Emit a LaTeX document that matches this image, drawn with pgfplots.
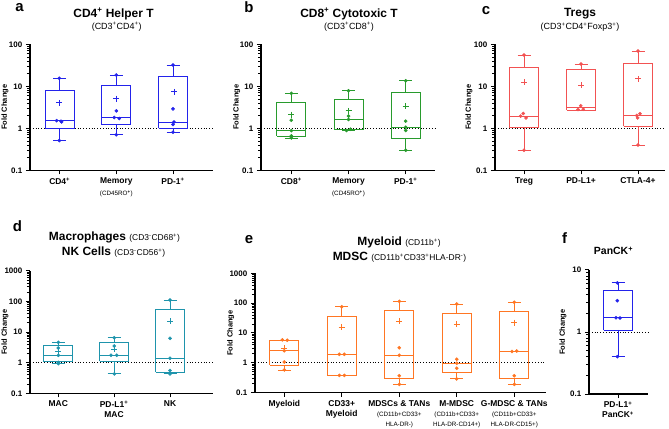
\documentclass[border=0pt]{standalone}
\usepackage{fontspec}
\setmainfont{Liberation Sans}
\usepackage{pgfplots}
\pgfplotsset{compat=1.18}

\definecolor{cBlue}{RGB}{35,35,235}
\definecolor{cGreen}{RGB}{40,155,45}
\definecolor{cRed}{RGB}{242,82,82}
\definecolor{cTeal}{RGB}{30,148,172}
\definecolor{cOrange}{RGB}{255,118,35}

\newcommand{\sm}{\mdseries\fontsize{6.3}{7.5}\selectfont}
\newcommand{\ttl}{\bfseries\fontsize{12}{14}\selectfont}
\newcommand{\subt}{\mdseries\fontsize{9}{11}\selectfont}
\newcommand{\subs}{\mdseries\fontsize{8.5}{10}\selectfont}

% common axis opening
\newcommand{\pax}[1]{\begin{axis}[ymode=log, scale only axis,
    axis x line=bottom, axis y line=left,
    axis line style={-, line width=1.3pt, black},
    tick align=outside,
    major tick length=4.2bp, minor tick length=3bp,
    major tick style={black, line width=1pt},
    minor tick style={black, line width=0.8pt},
    yticklabel style={font=\bfseries\fontsize{8}{9}\selectfont},
    xticklabel style={font=\bfseries\fontsize{8.5}{10}\selectfont, align=center},
    ylabel={Fold Change},
    ylabel style={font=\bfseries\fontsize{7.5}{9}\selectfont},
    clip=false, #1]}

% #1 colour, #2 position, #3..#7 lower whisker, q1, median, q3, upper whisker
\newcommand{\bx}[7]{%
  \pgfmathsetmacro{\bxl}{#2-14.5}\pgfmathsetmacro{\bxr}{#2+14.5}%
  \pgfmathsetmacro{\bwl}{#2-6.5}\pgfmathsetmacro{\bwr}{#2+6.5}%
  \addplot[#1, line width=0.8pt, mark=none] coordinates {(\bxl,#4) (\bxr,#4) (\bxr,#6) (\bxl,#6) (\bxl,#4)};
  \addplot[#1, line width=0.8pt, mark=none] coordinates {(\bxl,#5) (\bxr,#5)};
  \addplot[#1, line width=0.8pt, mark=none] coordinates {(#2,#6) (#2,#7)};
  \addplot[#1, line width=0.8pt, mark=none] coordinates {(\bwl,#7) (\bwr,#7)};
  \addplot[#1, line width=0.8pt, mark=none] coordinates {(#2,#4) (#2,#3)};
  \addplot[#1, line width=0.8pt, mark=none] coordinates {(\bwl,#3) (\bwr,#3)};
}

\begin{document}
\begin{tikzpicture}
\path[use as bounding box] (0,0) rectangle (669bp,429bp);

% ---------------- a ----------------
\pax{width=183bp, height=126bp,
  xmin=30, xmax=213, ymin=0.1, ymax=100,
  ytick={0.1,1,10,100}, yticklabels={0.1,1,10,100},
  minor ytick={0.2,0.3,0.4,0.5,0.6,0.7,0.8,0.9,2,3,4,5,6,7,8,9,20,30,40,50,60,70,80,90},
  xtick={59.7,116.3,173},
  xticklabels={{CD4\textsuperscript{+}},{Memory\\[2pt]{\sm (CD45RO\textsuperscript{\bfseries +})}},{PD-1\textsuperscript{+}}},
  ylabel style={at={(axis description cs:-0.137,0.5)}, anchor=center},
  at={(30bp,258.7bp)}, anchor=south west}
\addplot[black, line width=0.9pt, dash pattern=on 1bp off 1.8bp] coordinates {(30,1) (213,1)};
\bx{cBlue}{59.7}{0.51}{0.97}{1.53}{8.1}{15.5}
\bx{cBlue}{116.3}{0.70}{1.23}{1.81}{10.5}{18.5}
\bx{cBlue}{173}{0.81}{1.02}{1.42}{17.2}{32}
\addplot[cBlue, only marks, mark=*, mark size=1.6bp] coordinates {(59.3,15.5) (56.7,1.52) (61,1.48) (61.7,1.42) (59.3,0.51)
  (116.3,18.5) (116.3,2.6) (114.3,1.81) (119.3,1.71) (116.3,0.70)
  (173,32) (173,2.9) (174,1.42) (173,1.23) (173,0.81)};
\addplot[cBlue, only marks, mark=+, mark size=3bp, line width=0.8pt] coordinates {(59.3,4.05) (116,5.1) (174,7.4)};
\end{axis}

% ---------------- b ----------------
\pax{width=174bp, height=126bp,
  xmin=261, xmax=435, ymin=0.1, ymax=100,
  ytick={0.1,1,10,100}, yticklabels={0.1,1,10,100},
  minor ytick={0.2,0.3,0.4,0.5,0.6,0.7,0.8,0.9,2,3,4,5,6,7,8,9,20,30,40,50,60,70,80,90},
  xtick={291.3,348.5,405.7},
  xticklabels={{CD8\textsuperscript{+}},{Memory\\[2pt]{\sm (CD45RO\textsuperscript{\bfseries +})}},{PD-1\textsuperscript{+}}},
  ylabel style={at={(axis description cs:-0.14,0.5)}, anchor=center},
  at={(261bp,258.7bp)}, anchor=south west}
\addplot[black, line width=0.9pt, dash pattern=on 1bp off 1.8bp] coordinates {(261,1) (435,1)};
\bx{cGreen}{291.3}{0.57}{0.64}{0.885}{4.1}{6.8}
\bx{cGreen}{348.5}{0.88}{0.94}{1.62}{4.8}{7.8}
\bx{cGreen}{405.7}{0.30}{0.59}{1.06}{7.1}{13.5}
\addplot[cGreen, only marks, mark=*, mark size=1.6bp] coordinates {(291.3,6.8) (291.3,1.56) (291.3,0.88) (291.3,0.66) (291.3,0.59)
  (348.5,7.8) (348.5,1.95) (348.5,1.62) (350.5,0.95) (346.5,0.89)
  (405.7,13.5) (405.7,1.48) (405.7,1.06) (405.7,0.89) (405.7,0.30)};
\addplot[cGreen, only marks, mark=+, mark size=3bp, line width=0.8pt] coordinates {(291.3,2.13) (348.5,2.6) (405.7,3.4)};
\end{axis}

% ---------------- c ----------------
\pax{width=170bp, height=126bp,
  xmin=495, xmax=665, ymin=0.1, ymax=100,
  ytick={0.1,1,10,100}, yticklabels={0.1,1,10,100},
  minor ytick={0.2,0.3,0.4,0.5,0.6,0.7,0.8,0.9,2,3,4,5,6,7,8,9,20,30,40,50,60,70,80,90},
  xtick={524,581,638},
  xticklabels={Treg,PD-L1+,CTLA-4+},
  ylabel style={at={(axis description cs:-0.153,0.5)}, anchor=center},
  at={(495bp,258.7bp)}, anchor=south west}
\addplot[black, line width=0.9pt, dash pattern=on 1bp off 1.8bp] coordinates {(495,1) (665,1)};
\bx{cRed}{524}{0.30}{1.04}{1.95}{28.3}{55.6}
\bx{cRed}{581}{2.7}{2.7}{3.07}{25.3}{33.9}
\bx{cRed}{638}{0.40}{1.12}{2.02}{35.2}{69}
\addplot[cRed, only marks, mark=*, mark size=1.6bp] coordinates {(524,55.6) (523.3,2.25) (520.7,1.95) (526,1.77) (524,0.30)
  (581,33.9) (580.7,3.43) (578,2.81) (583.3,2.85)
  (638,69) (640,2.21) (636.7,2.02) (637.7,1.77) (638,0.40)};
\addplot[cRed, only marks, mark=+, mark size=3bp, line width=0.8pt] coordinates {(524,12.4) (581,10.7) (638,15.1)};
\end{axis}

% ---------------- d ----------------
\pax{width=183bp, height=122.6bp,
  xmin=30, xmax=213, ymin=0.1, ymax=1000,
  ytick={0.1,1,10,100,1000}, yticklabels={0.1,1,10,100,1000},
  minor ytick={0.2,0.3,0.4,0.5,0.6,0.7,0.8,0.9,2,3,4,5,6,7,8,9,20,30,40,50,60,70,80,90,200,300,400,500,600,700,800,900},
  xtick={58.3,114,170},
  xticklabels={MAC,{PD-L1\textsuperscript{+}\\MAC},NK},
  ylabel style={at={(axis description cs:-0.137,0.5)}, anchor=center},
  at={(30bp,35.7bp)}, anchor=south west}
\addplot[black, line width=0.9pt, dash pattern=on 1bp off 1.8bp] coordinates {(30,1) (213,1)};
\bx{cTeal}{58.3}{0.95}{1.07}{1.73}{3.57}{4.6}
\bx{cTeal}{114}{0.43}{1.13}{1.73}{4.7}{6.5}
\bx{cTeal}{170}{0.43}{0.48}{1.39}{55}{111}
\addplot[cTeal, only marks, mark=*, mark size=1.6bp] coordinates {(58.3,4.6) (58.3,3.0) (58.3,1.73) (58.3,1.02) (58.3,0.93)
  (114.3,6.5) (114.3,3.5) (111,1.75) (116.7,1.75) (114.3,0.43)
  (170,111) (170,6.2) (170,1.39) (170,0.55) (170,0.43)};
\addplot[cTeal, only marks, mark=+, mark size=3bp, line width=0.8pt] coordinates {(58.3,2.28) (114.3,2.79) (170,22.8)};
\end{axis}

% ---------------- e ----------------
\pax{width=291bp, height=119.4bp,
  xmin=255, xmax=546, ymin=0.1, ymax=1000,
  ytick={0.1,1,10,100,1000}, yticklabels={0.1,1,10,100,1000},
  minor ytick={0.2,0.3,0.4,0.5,0.6,0.7,0.8,0.9,2,3,4,5,6,7,8,9,20,30,40,50,60,70,80,90,200,300,400,500,600,700,800,900},
  xtick={284.3,341.7,399.3,456.7,514.3},
  xticklabels={Myeloid,{CD33+\\Myeloid},{MDSCs \& TANs\\{\sm (CD11b+CD33+}\\{\sm HLA-DR-)}},{M-MDSC\\{\sm (CD11b+CD33+}\\{\sm HLA-DR-CD14+)}},{G-MDSC \& TANs\\{\sm (CD11b+CD33+}\\{\sm HLA-DR-CD15+)}}},
  ylabel style={at={(axis description cs:-0.0835,0.5)}, anchor=center},
  at={(255bp,36.3bp)}, anchor=south west}
\addplot[black, line width=0.9pt, dash pattern=on 1bp off 1.8bp] coordinates {(255,1) (546,1)};
\bx{cOrange}{284.3}{0.58}{0.83}{2.55}{5.7}{5.8}
\bx{cOrange}{341.7}{0.38}{0.38}{1.93}{37}{76}
\bx{cOrange}{399.3}{0.19}{0.29}{1.79}{56}{115}
\bx{cOrange}{456.7}{0.29}{0.48}{0.97}{45.7}{94}
\bx{cOrange}{514.3}{0.19}{0.29}{2.44}{51.8}{107}
\addplot[cOrange, only marks, mark=*, mark size=1.6bp] coordinates {(282.3,5.9) (287.3,5.7) (284.3,2.55) (284.3,1.07) (284.3,0.58)
  (341.7,76) (339.3,1.93) (344.3,1.93) (339.3,0.38) (344.3,0.38)
  (399.3,115) (399.3,3.2) (399.3,1.79) (399.3,0.37) (399.3,0.19)
  (456.7,94) (456.7,1.32) (456.7,0.97) (456.7,0.66) (456.7,0.29)
  (514.3,107) (512,2.42) (516.7,2.48) (514.3,0.37) (514.3,0.19)};
\addplot[cOrange, only marks, mark=+, mark size=3bp, line width=0.8pt] coordinates {(284.3,3.07) (341.7,15.9) (399.3,24.7) (456.7,19.6) (514.3,22.1)};
\end{axis}

% ---------------- f ----------------
\pax{width=59bp, height=124bp,
  xmin=589, xmax=648, ymin=0.1, ymax=10,
  ytick={0.1,1,10}, yticklabels={0.1,1,10},
  minor ytick={0.2,0.3,0.4,0.5,0.6,0.7,0.8,0.9,2,3,4,5,6,7,8,9},
  xtick={618},
  xticklabels={{PD-L1\textsuperscript{+}\\PanCK\textsuperscript{+}}},
  ylabel style={at={(axis description cs:-0.44,0.5)}, anchor=center},
  at={(589bp,35bp)}, anchor=south west}
\addplot[black, line width=0.9pt, dash pattern=on 1bp off 1.8bp] coordinates {(589,1) (648,1)};
\bx{cBlue}{618}{0.40}{1.08}{1.70}{4.64}{6.25}
\addplot[cBlue, only marks, mark=*, mark size=1.6bp] coordinates {(617.3,6.2) (617.3,3.2) (616,1.7) (620,1.68) (617.3,0.40)};
\end{axis}

% ---------------- titles ----------------
\node[anchor=base, font=\bfseries\fontsize{15}{17}\selectfont] at (19.5bp,417bp) {a};
\node[anchor=base, font=\bfseries\fontsize{15}{17}\selectfont] at (249bp,416.3bp) {b};
\node[anchor=base, font=\bfseries\fontsize{15}{17}\selectfont] at (486bp,414bp) {c};
\node[anchor=base, font=\bfseries\fontsize{15}{17}\selectfont] at (17.5bp,197.3bp) {d};
\node[anchor=base, font=\bfseries\fontsize{15}{17}\selectfont] at (249bp,185.7bp) {e};
\node[anchor=base, font=\bfseries\fontsize{15}{17}\selectfont] at (564.6bp,185.7bp) {f};

\node[anchor=base, font=\ttl] at (113.5bp,411.7bp) {CD4\textsuperscript{+} Helper T};
\node[anchor=base, font=\subt] at (116.7bp,399.5bp) {(CD3\textsuperscript{+}CD4\textsuperscript{+})};
\node[anchor=base, font=\ttl] at (349bp,411.7bp) {CD8\textsuperscript{+} Cytotoxic T};
\node[anchor=base, font=\subt] at (349bp,399.5bp) {(CD3\textsuperscript{+}CD8\textsuperscript{+})};
\node[anchor=base, font=\ttl] at (580bp,412.3bp) {Tregs};
\node[anchor=base, font=\subt] at (580bp,399bp) {(CD3\textsuperscript{+}CD4\textsuperscript{+}Foxp3\textsuperscript{+})};

\node[anchor=base, font=\ttl] at (114.5bp,188.3bp) {Macrophages {\subs(CD3\textsuperscript{-}CD68\textsuperscript{+})}};
\node[anchor=base, font=\ttl] at (113.5bp,173.3bp) {NK Cells {\subs(CD3\textsuperscript{-}CD56\textsuperscript{+})}};
\node[anchor=base, font=\ttl] at (399bp,183.3bp) {Myeloid {\subs(CD11b\textsuperscript{+})}};
\node[anchor=base, font=\ttl] at (399.5bp,168.7bp) {MDSC {\subs(CD11b\textsuperscript{+}CD33\textsuperscript{+}HLA-DR\textsuperscript{-})}};
\node[anchor=base, font=\bfseries\fontsize{10.5}{12}\selectfont] at (613.5bp,174bp) {PanCK\textsuperscript{+}};
\end{tikzpicture}
\end{document}
